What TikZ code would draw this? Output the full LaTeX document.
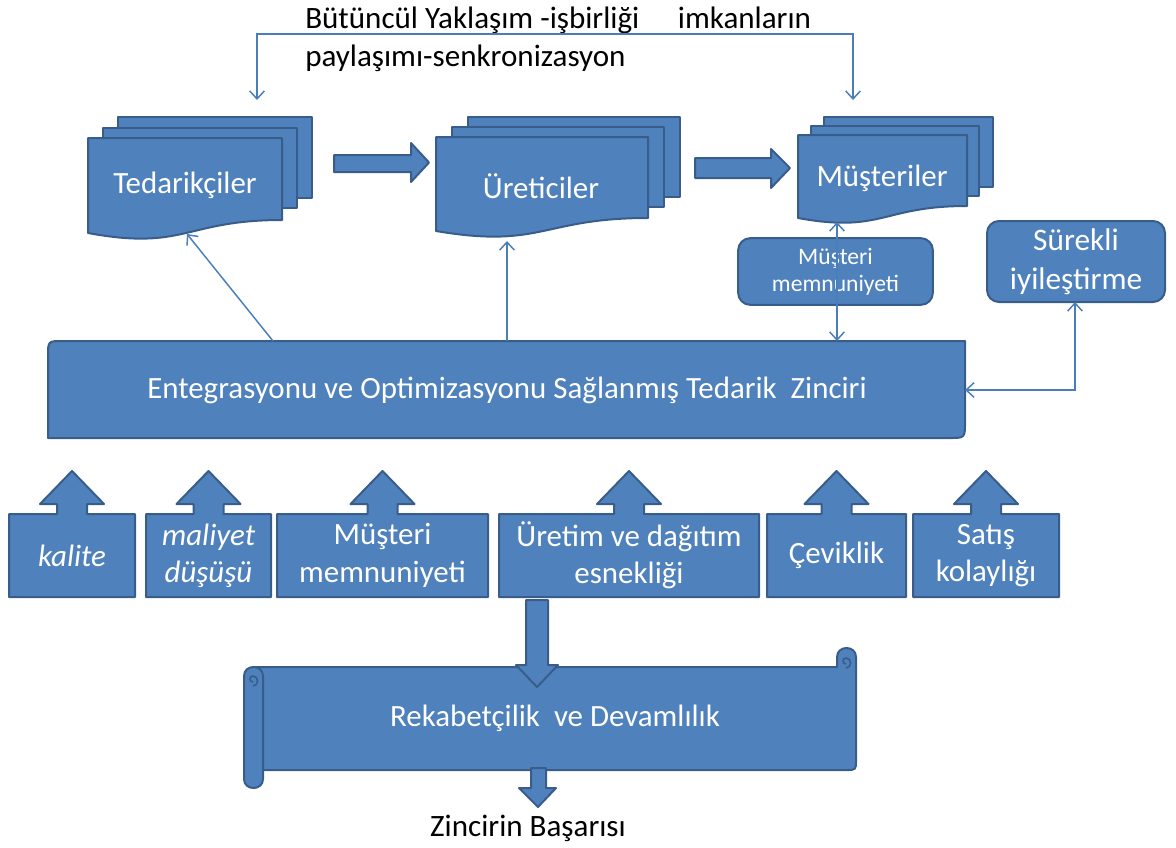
\documentclass[tikz,border=0pt]{standalone}
\usepackage{fontspec}
\setmainfont{Carlito}
\usetikzlibrary{arrows.meta}
\definecolor{bfill}{HTML}{4F81BD}
\definecolor{bline}{HTML}{385D8A}
\definecolor{cline}{HTML}{4A7EBB}
\tikzset{
  shapebox/.style={fill=bfill, draw=bline, line width=1.5pt, line join=round},
  lbl/.style={text=white, font=\fontsize{23.2}{28}\selectfont, align=center, inner sep=0pt},
  smalllbl/.style={text=white, font=\fontsize{17.7}{20.5}\selectfont, align=center, inner sep=0pt},
  blacklbl/.style={text=black, font=\fontsize{23.3}{28.5}\selectfont, inner sep=0pt},
  conn/.style={draw=cline, line width=1.1pt},
  barb/.tip={Straight Barb[length=6pt,width=11pt]},
  roundbox/.style={shapebox, rounded corners=9pt, inner sep=0pt}
}
\newcommand{\upcallout}[4]{%
  \pgfmathsetmacro{\cx}{(#2+#3)/2}%
  \filldraw[shapebox] (#2,597) -- (#2,514) -- (\cx-15,514) -- (\cx-15,504) -- (\cx-32,504) -- (\cx,471)
     -- (\cx+32,504) -- (\cx+15,504) -- (\cx+15,514) -- (#3,514) -- (#3,597) -- cycle;
  \node[lbl] (#1) at (\cx,555.5) {#4};
}
\begin{document}
\begin{tikzpicture}[x=0.75pt,y=-0.75pt]
\useasboundingbox (0,0) rectangle (1176,847);

% top text
\node[blacklbl, anchor=north west, align=left] (toptext) at (305,7)
  {Bütüncül Yaklaşım -işbirliği\hspace{29pt}imkanların\\paylaşımı-senkronizasyon};

% Tedarikçiler
\filldraw[shapebox] (118,117) rectangle (312,198);
\filldraw[shapebox] (103,128) rectangle (297,208);
\filldraw[shapebox] (88,138) -- (282,138) -- (282,220) .. controls (185,220) and (185,251) .. (88,233) -- cycle;
\node[lbl] (ted) at (185,185) {Tedarikçiler};

% Üreticiler
\filldraw[shapebox] (468,117) rectangle (680,197);
\filldraw[shapebox] (452,127) rectangle (664,207);
\filldraw[shapebox] (436,137) -- (648,137) -- (648,218) .. controls (542,218) and (542,249) .. (436,231) -- cycle;
\node[lbl] (ure) at (541,186) {Üreticiler};

% Müşteriler
\filldraw[shapebox] (824,117) rectangle (993,187);
\filldraw[shapebox] (811,126) rectangle (979,196);
\filldraw[shapebox] (798,135) -- (967,135) -- (967,206) .. controls (882,206) and (882,233.5) .. (798,218) -- cycle;
\node[lbl] (mus) at (882,178) {Müşteriler};

% block arrows between documents
\filldraw[shapebox] (334,155) -- (411,155) -- (411,143) -- (429,162.5) -- (411,182) -- (411,172) -- (334,172) -- cycle;
\filldraw[shapebox] (695,158) -- (771,158) -- (771,149) -- (790,168) -- (771,188) -- (771,178) -- (695,178) -- cycle;

% top connector
\coordinate (tedTop) at (257,100);
\coordinate (musTop) at (853,100);
\coordinate (tl) at (257,34);
\coordinate (tr) at (853,34);
\draw[conn, {barb}-{barb}] (tedTop) -- (tl) -- (tr) -- (musTop);

% small box Müşteri memnuniyeti
\node[roundbox, minimum width=146pt, minimum height=50pt] (mmbox) at (835.5,271.5) {};
\node[smalllbl] (mmtext) at (835.5,272) {Müşteri\\memnuniyeti};

% Sürekli iyileştirme
\node[roundbox, minimum width=133.5pt, minimum height=60.75pt] (sur) at (1076,261.5) {};
\node[lbl, font=\fontsize{23.5}{29.5}\selectfont] (surtext) at (1076,262) {Sürekli\\iyileştirme};

% main bar
\filldraw[shapebox] (48,438) -- (48,356) .. controls (48,341) .. (63,341) -- (965,341) -- (965,422) .. controls (965,438) .. (949,438) -- cycle;
\node[lbl, font=\fontsize{23.2}{28}\selectfont] (bar) at (507,390) {Entegrasyonu ve Optimizasyonu Sağlanmış Tedarik\ \ Zinciri};

% thin connectors
\coordinate (barT1) at (273,341);
\coordinate (tedB) at (187,234);
\coordinate (barT2) at (507,341);
\coordinate (ureB) at (507,241);
\coordinate (barT3) at (837,341);
\coordinate (musB) at (837,222);
\coordinate (barR) at (965,390);
\coordinate (surB) at (1075,302);
\coordinate (corner) at (1075,390);
\draw[conn, -{barb}] (barT1) -- (tedB);
\draw[conn, -{barb}] (barT2) -- (ureB);
\draw[conn, {barb}-{barb}] (barT3) -- (musB);
\draw[conn, {barb}-{barb}] (surB) -- (corner) -- (barR);

% bottom callouts
\upcallout{c1}{9}{135}{\itshape kalite}
\upcallout{c2}{146}{271}{\itshape maliyet\\\itshape düşüşü}
\upcallout{c3}{277}{488}{Müşteri\\memnuniyeti}
\upcallout{c4}{499}{759}{Üretim ve dağıtım\\esnekliği}
\upcallout{c5}{767}{906}{Çeviklik}
\upcallout{c6}{913}{1059}{Satış\\kolaylığı}

% scroll
\filldraw[shapebox] (253,667) -- (837,667) -- (837,657) .. controls (837,645) and (856,645) .. (856,657)
   -- (856,760) .. controls (856,770) .. (846,770) -- (253,770) -- cycle;
\draw[draw=bline, line width=1.2pt] (846,668) .. controls (852,668) and (852,658) .. (846,658) .. controls (842,658) and (842,664) .. (846,664);
\filldraw[shapebox] (244,676) .. controls (244,664) and (263,664) .. (263,676) -- (263,779) .. controls (263,791) and (244,791) .. (244,779) -- cycle;
\draw[draw=bline, line width=1.2pt] (253,686) .. controls (259,686) and (259,676) .. (253,676) .. controls (249,676) and (249,682) .. (253,682);
\node[lbl] (rek) at (555,718) {Rekabetçilik\ \ ve Devamlılık};

% down arrows
\filldraw[shapebox] (526,600) -- (526,665) -- (516,665) -- (537,687) -- (558,665) -- (548,665) -- (548,600) -- cycle;
\filldraw[shapebox] (531,768) -- (531,788) -- (519,788) -- (538,807) -- (556,788) -- (546,788) -- (546,768) -- cycle;

\node[blacklbl] (basari) at (528,828) {Zincirin Başarısı};
\end{tikzpicture}
\end{document}
